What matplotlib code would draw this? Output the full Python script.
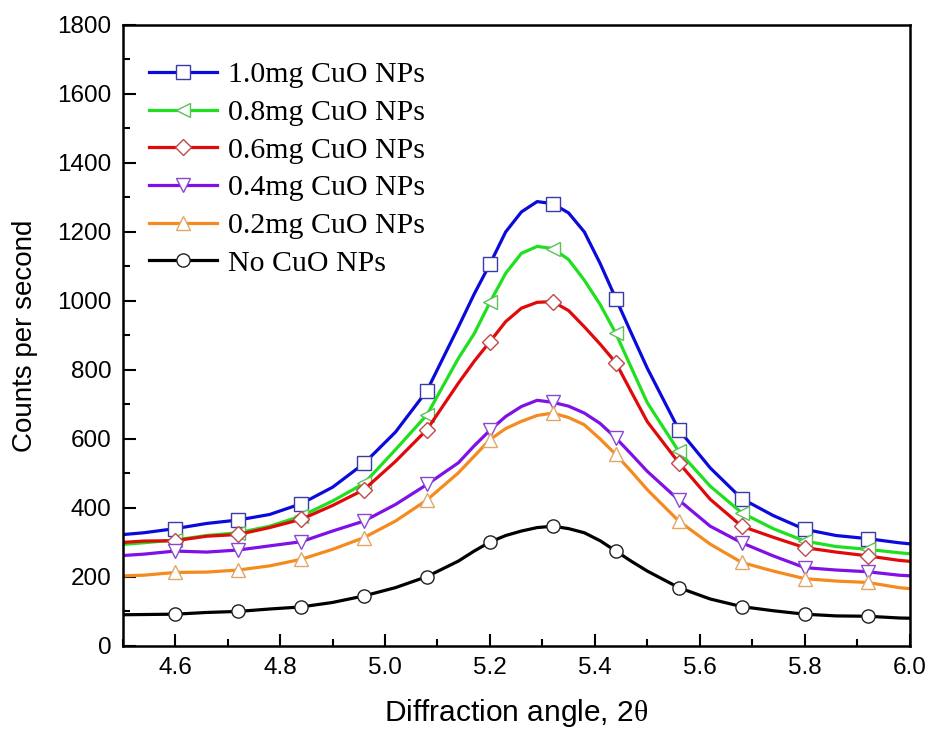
import numpy as np
import matplotlib.pyplot as plt
from matplotlib.ticker import MultipleLocator

plt.rcParams['font.family'] = 'Liberation Sans'
plt.rcParams['mathtext.fontset'] = 'custom'
plt.rcParams['mathtext.it'] = 'Liberation Serif'

# diffraction angle grid (denser around the peak)
two_theta = [4.48, 4.54, 4.60, 4.66, 4.72, 4.78, 4.84, 4.90, 4.96, 5.02, 5.08, 5.14,
             5.17, 5.20, 5.23, 5.26, 5.29, 5.32, 5.35, 5.38, 5.41, 5.44, 5.47, 5.50,
             5.56, 5.62, 5.68, 5.74, 5.80, 5.86, 5.92, 5.98, 6.04]
marker_angles = [4.60, 4.72, 4.84, 4.96, 5.08, 5.20, 5.32, 5.44, 5.56, 5.68, 5.80, 5.92]

cuo_10 = [320, 328, 340, 355, 365, 381, 412, 460, 529, 620, 740, 925,
          1020, 1107, 1200, 1258, 1288, 1282, 1255, 1200, 1109, 1007, 905, 805,
          627, 516, 427, 378, 338, 320, 311, 299, 290]
cuo_08 = [292, 299, 307, 320, 328, 347, 376, 420, 471, 569, 670, 834,
          905, 996, 1080, 1138, 1158, 1152, 1120, 1060, 990, 906, 805, 705,
          564, 463, 386, 340, 304, 288, 280, 270, 262]
cuo_06 = [298, 304, 305, 318, 323, 343, 367, 407, 453, 535, 627, 762,
          825, 882, 940, 979, 996, 998, 972, 925, 875, 821, 735, 650,
          531, 425, 347, 315, 285, 272, 261, 248, 240]
cuo_04 = [260, 266, 275, 272, 278, 290, 302, 333, 362, 410, 468, 531,
          580, 625, 665, 694, 712, 706, 695, 675, 645, 603, 555, 506,
          423, 347, 299, 261, 227, 220, 215, 205, 200]
cuo_02 = [202, 205, 213, 214, 220, 232, 251, 280, 314, 362, 423, 502,
          550, 598, 630, 651, 668, 675, 662, 641, 600, 555, 505, 453,
          362, 295, 242, 217, 195, 188, 184, 169, 160]
no_cuo = [90, 91, 92, 97, 100, 107, 113, 126, 145, 169, 201, 246,
          275, 301, 320, 333, 343, 347, 340, 328, 305, 275, 245, 217,
          169, 136, 114, 102, 92, 87, 86, 81, 79]

series = [
    (cuo_10, '1.0mg CuO NPs', '#0a0adc', 's', '#3a3aa8'),
    (cuo_08, '0.8mg CuO NPs', '#1ee01e', '<', '#5cc05c'),
    (cuo_06, '0.6mg CuO NPs', '#e00a0a', 'D', '#c04848'),
    (cuo_04, '0.4mg CuO NPs', '#7f10e6', 'v', '#8a48d0'),
    (cuo_02, '0.2mg CuO NPs', '#f58a1f', '^', '#e0a868'),
    (no_cuo, 'No CuO NPs', '#000000', 'o', '#202020'),
]

mark_idx = [i for i, t in enumerate(two_theta) if any(abs(t - m) < 1e-6 for m in marker_angles)]

fig = plt.figure(figsize=(9.3, 7.34), dpi=100)
ax = fig.add_axes([0.132, 0.12, 0.846, 0.846])

for vals, lab, col, mk, ec in series:
    ax.plot(two_theta, vals, color=col, lw=2.3, marker=mk, markevery=mark_idx,
            ms=9.5 if mk != 'D' else 8, mfc='white', mec=ec, mew=1.0, label=lab)

ax.set_xlim(4.5, 6.0)
ax.set_ylim(0, 1800)
ax.xaxis.set_major_locator(MultipleLocator(0.2))
ax.xaxis.set_minor_locator(MultipleLocator(0.1))
ax.yaxis.set_major_locator(MultipleLocator(200))
ax.yaxis.set_minor_locator(MultipleLocator(100))
ax.xaxis.set_major_formatter(plt.FormatStrFormatter('%.1f'))
ax.tick_params(which='both', direction='in', top=False, right=False, width=1.5,
               labelsize=17.5, pad=8)
ax.tick_params(which='major', length=9)
ax.tick_params(which='minor', length=5)
for sp in ax.spines.values():
    sp.set_linewidth(1.8)

ax.set_xlabel(r'Diffraction angle, 2$\mathit{\theta}$', fontsize=21.5, labelpad=13)
ax.set_ylabel('Counts per second', fontsize=20, labelpad=14)

ax.legend(loc='upper left', bbox_to_anchor=(0.033, 0.941), frameon=False,
          borderaxespad=0, borderpad=0, handlelength=2.3, handletextpad=0.35,
          labelspacing=0.36, prop={'family': 'Liberation Serif', 'size': 21.5})

plt.savefig('out.png', dpi=100, facecolor='white')
